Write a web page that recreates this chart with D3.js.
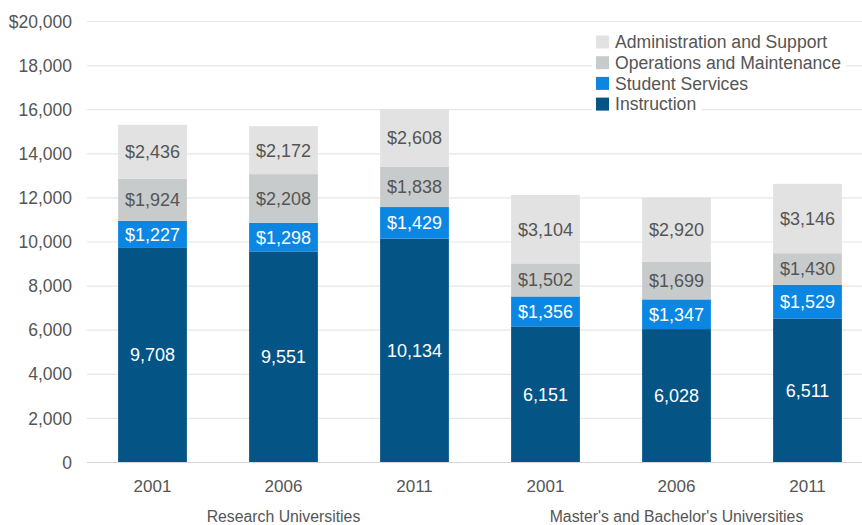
<!DOCTYPE html>
<html>
<head>
  <title>Spending per Student by Category</title>
  <script src="https://d3js.org/d3.v7.min.js"></script>
  <style>
    body { margin: 0; background: #fff; }
    text { font-family: "Liberation Sans", Arial, sans-serif; }
  </style>
</head>
<body>
<div id="chart"></div>
<script>

// Chart data
var groups = ["Research Universities", "Master's and Bachelor's Universities"];
var years = ["2001", "2006", "2011"];
var categories = ["Instruction", "Student Services", "Operations and Maintenance", "Administration and Support"];
var instruction = [9708, 9551, 10134, 6151, 6028, 6511];
var studentServices = [1227, 1298, 1429, 1356, 1347, 1529];
var operations = [1924, 2208, 1838, 1502, 1699, 1430];
var administration = [2436, 2172, 2608, 3104, 2920, 3146];
var yTicks = [0, 2000, 4000, 6000, 8000, 10000, 12000, 14000, 16000, 18000, 20000];

var colors = ["#045486", "#0b86e2", "#c8cbcc", "#e2e2e2"];
var labelColors = ["#ffffff", "#ffffff", "#555555", "#555555"];

// Build the table for the stack
var table = [];
groups.forEach(function(g, gi) {
  years.forEach(function(y, yi) {
    var i = gi * years.length + yi;
    table.push({
      key: g + "|" + y, group: g, year: y,
      "Instruction": instruction[i],
      "Student Services": studentServices[i],
      "Operations and Maintenance": operations[i],
      "Administration and Support": administration[i]
    });
  });
});

var width = 862, height = 525;

var svg = d3.select("#chart").append("svg")
  .attr("width", width)
  .attr("height", height);

var x = d3.scaleBand()
  .domain(table.map(function(d) { return d.key; }))
  .range([87, 873])
  .paddingInner(0.475)
  .paddingOuter(0.2375);

var y = d3.scaleLinear()
  .domain([0, 20000])
  .range([462, 21]);

// Gridlines
svg.append("g")
  .selectAll("line")
  .data(yTicks)
  .enter()
  .append("line")
  .attr("x1", 87)
  .attr("x2", width)
  .attr("y1", function(d) { return y(d) + 0.5; })
  .attr("y2", function(d) { return y(d) + 0.5; })
  .attr("stroke", function(d) { return d === 0 ? "#d6d6d6" : "#e6e6e6"; })
  .attr("stroke-width", 1.2);

// Y axis labels
var yAxis = d3.axisLeft(y)
  .tickValues(yTicks)
  .tickSize(0)
  .tickPadding(0)
  .tickFormat(function(d) { return d === 20000 ? "$" + d3.format(",")(d) : d3.format(",")(d); });

var yg = svg.append("g")
  .attr("transform", "translate(72,0)")
  .call(yAxis);
yg.select(".domain").remove();
yg.selectAll("text")
  .style("font-size", "17.5px")
  .attr("fill", "#555")
  .attr("dy", "0.35em");

// Stacked bars
var stack = d3.stack().keys(categories);
var series = stack(table);

var layers = svg.append("g")
  .selectAll("g")
  .data(series)
  .enter()
  .append("g")
  .attr("fill", function(d, i) { return colors[i]; });

layers.selectAll("rect")
  .data(function(d) { return d; })
  .enter()
  .append("rect")
  .attr("x", function(d) { return x(d.data.key); })
  .attr("width", x.bandwidth())
  .attr("y", function(d) { return y(d[1]); })
  .attr("height", function(d) { return y(d[0]) - y(d[1]); });

// Segment labels
series.forEach(function(s, si) {
  svg.append("g")
    .selectAll("text")
    .data(s)
    .enter()
    .append("text")
    .attr("x", function(d) { return x(d.data.key) + x.bandwidth() / 2; })
    .attr("y", function(d) { return (y(d[0]) + y(d[1])) / 2; })
    .attr("dy", "0.36em")
    .attr("text-anchor", "middle")
    .attr("fill", labelColors[si])
    .style("font-size", "18px")
    .text(function(d) {
      var v = d[1] - d[0];
      return (si === 0 ? "" : "$") + d3.format(",")(v);
    });
});

// Year labels
svg.append("g")
  .selectAll("text")
  .data(table)
  .enter()
  .append("text")
  .attr("x", function(d) { return x(d.key) + x.bandwidth() / 2; })
  .attr("y", 492)
  .attr("text-anchor", "middle")
  .attr("fill", "#555")
  .style("font-size", "17px")
  .text(function(d) { return d.year; });

// Group labels (centered under middle year)
svg.append("g")
  .selectAll("text")
  .data(groups)
  .enter()
  .append("text")
  .attr("x", function(g) { return x(g + "|" + years[1]) + x.bandwidth() / 2; })
  .attr("y", 522)
  .attr("text-anchor", "middle")
  .attr("fill", "#555")
  .style("font-size", "15.8px")
  .text(function(g) { return g; });

// Legend (top item first)
var legendItems = categories.slice().reverse();
var legend = svg.append("g")
  .selectAll("g")
  .data(legendItems)
  .enter()
  .append("g")
  .attr("transform", function(d, i) { return "translate(596," + (42 + i * 20.7) + ")"; });

var bg = legend.append("rect")
  .attr("x", -4)
  .attr("y", -10)
  .attr("height", 20)
  .attr("fill", "#fff");

legend.append("rect")
  .attr("x", 0)
  .attr("y", -6.5)
  .attr("width", 13)
  .attr("height", 13)
  .attr("fill", function(d) { return colors[categories.indexOf(d)]; });

var legendText = legend.append("text")
  .attr("x", 19)
  .attr("dy", "0.35em")
  .attr("fill", "#555")
  .style("font-size", "17.6px")
  .text(function(d) { return d; });

bg.attr("width", function(d, i) {
  return legendText.nodes()[i].getComputedTextLength() + 28;
});

</script>
</body>
</html>
